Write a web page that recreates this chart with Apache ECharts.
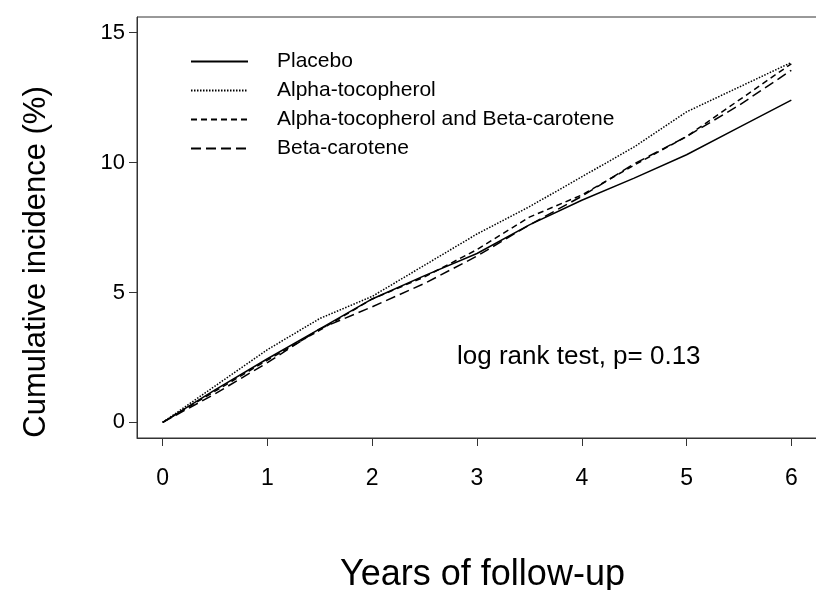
<!DOCTYPE html>
<html>
<head>
<meta charset="utf-8">
<script src="https://cdn.jsdelivr.net/npm/echarts@6/dist/echarts.min.js"></script>
<style>
  html, body { margin: 0; padding: 0; background: #fff; }
  #chart { width: 816px; height: 590px; }
</style>
</head>
<body>
<div id="chart"></div>
<script>
// years of follow-up and cumulative incidence (%)
var years = [0, 0.5, 1, 1.5, 2, 2.5, 3, 3.5, 4, 4.5, 5, 5.5, 6];
var placebo = [0, 1.25, 2.45, 3.6, 4.75, 5.65, 6.5, 7.6, 8.55, 9.4, 10.3, 11.35, 12.4];
var alphaToc = [0, 1.4, 2.8, 4.0, 4.85, 6.05, 7.25, 8.3, 9.45, 10.6, 11.95, 12.9, 13.85];
var alphaBeta = [0, 1.2, 2.4, 3.55, 4.75, 5.6, 6.65, 7.9, 8.75, 9.9, 11.0, 12.4, 13.8];
var beta = [0, 1.1, 2.3, 3.6, 4.45, 5.35, 6.4, 7.6, 8.7, 9.95, 11.0, 12.2, 13.55];

var xTicks = [0, 1, 2, 3, 4, 5, 6];
var yTicks = [0, 5, 10, 15];

var font = "'Liberation Sans', Arial, Helvetica, sans-serif";

function pairs(ys) {
  return years.map(function (x, i) { return [x, ys[i]]; });
}

function line(name, ys, dash) {
  return {
    name: name,
    type: 'line',
    data: pairs(ys),
    symbol: 'none',
    lineStyle: { color: '#000', width: 1.5, type: dash },
    itemStyle: { color: '#000' }
  };
}

var chart = echarts.init(document.getElementById('chart'));
chart.setOption({
  animation: false,
  backgroundColor: '#fff',
  grid: {
    left: 137, top: 17, width: 691, bottom: 152,
    outerBoundsMode: 'none',
    show: true, borderColor: '#333', borderWidth: 1
  },
  legend: {
    orient: 'vertical',
    left: 190, top: 51,
    padding: 0,
    itemWidth: 57, itemHeight: 14, itemGap: 8,
    itemStyle: { opacity: 0 },
    textStyle: { fontFamily: font, fontSize: 21, lineHeight: 21, color: '#000', padding: [0, 0, 0, 24] },
    data: ['Placebo', 'Alpha-tocopherol', 'Alpha-tocopherol and Beta-carotene', 'Beta-carotene']
  },
  xAxis: {
    type: 'value',
    min: -0.245, max: 6.35,
    name: 'Years of follow-up',
    nameLocation: 'middle',
    nameGap: 119,
    nameTextStyle: { fontFamily: font, fontSize: 36, color: '#000' },
    axisLine: { show: true, onZero: false, lineStyle: { color: '#333', width: 1 } },
    axisTick: { show: true, inside: false, length: 8, customValues: xTicks, lineStyle: { color: '#333' } },
    axisLabel: { customValues: xTicks, margin: 29, fontFamily: font, fontSize: 23, color: '#000' },
    splitLine: { show: false }
  },
  yAxis: {
    type: 'value',
    min: -0.6, max: 15.6,
    axisLine: { show: true, onZero: false, lineStyle: { color: '#333', width: 1 } },
    axisTick: { show: true, inside: false, length: 8, customValues: yTicks, lineStyle: { color: '#333' } },
    axisLabel: { customValues: yTicks, margin: 12, fontFamily: font, fontSize: 22, color: '#000' },
    splitLine: { show: false }
  },
  graphic: [{
    type: 'text',
    x: 36, y: 262,
    rotation: Math.PI / 2,
    style: {
      text: 'Cumulative incidence (%)', fontFamily: font, fontSize: 31, fill: '#000',
      align: 'center', verticalAlign: 'middle'
    }
  }, {
    type: 'text',
    left: 457, top: 344,
    style: { text: 'log rank test, p= 0.13', fontFamily: font, fontSize: 26, fill: '#000' }
  }],
  series: [
    line('Placebo', placebo, 'solid'),
    line('Alpha-tocopherol', alphaToc, [1.5, 1.5]),
    line('Alpha-tocopherol and Beta-carotene', alphaBeta, [6, 4]),
    line('Beta-carotene', beta, [10, 5])
  ]
});
</script>
</body>
</html>
